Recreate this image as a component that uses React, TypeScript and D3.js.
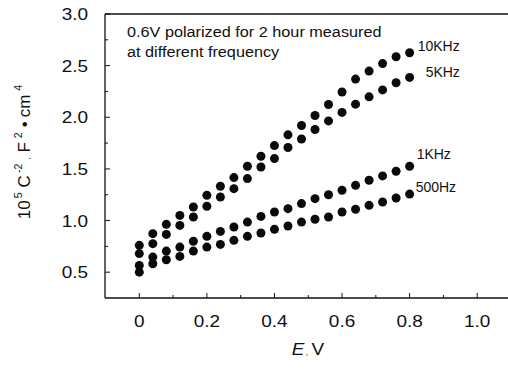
import React from "react";
import * as d3 from "d3";

const E = [0, 0.04, 0.08, 0.12, 0.16, 0.2, 0.24, 0.28, 0.32, 0.36, 0.4, 0.44, 0.48, 0.52, 0.56, 0.6, 0.64, 0.68, 0.72, 0.76, 0.8];
const s10k = [0.76, 0.873, 0.963, 1.05, 1.131, 1.244, 1.332, 1.416, 1.526, 1.623, 1.726, 1.83, 1.92, 2.017, 2.124, 2.245, 2.37, 2.447, 2.52, 2.586, 2.625];
const s5k = [0.68, 0.776, 0.866, 0.953, 1.034, 1.138, 1.228, 1.309, 1.406, 1.519, 1.6, 1.707, 1.79, 1.882, 1.965, 2.047, 2.127, 2.198, 2.265, 2.334, 2.386];
const s1k = [0.565, 0.646, 0.704, 0.743, 0.8, 0.847, 0.895, 0.937, 0.985, 1.04, 1.083, 1.115, 1.164, 1.212, 1.25, 1.293, 1.341, 1.39, 1.432, 1.477, 1.526];
const s500 = [0.5, 0.582, 0.62, 0.653, 0.704, 0.743, 0.769, 0.808, 0.847, 0.879, 0.915, 0.947, 0.985, 1.012, 1.034, 1.083, 1.109, 1.147, 1.18, 1.218, 1.256];
const seriesNames = ["10KHz", "5KHz", "1KHz", "500Hz"];
const seriesValues = [s10k, s5k, s1k, s500];
const xTicks = [0, 0.2, 0.4, 0.6, 0.8, 1.0];
const xTickLabels = ["0", "0.2", "0.4", "0.6", "0.8", "1.0"];
const xMinor = [0.1, 0.3, 0.5, 0.7, 0.9];
const yTicks = [0.5, 1.0, 1.5, 2.0, 2.5, 3.0];
const yMinor = [0.75, 1.25, 1.75, 2.25, 2.75];
const note = ["0.6V polarized for 2 hour measured", "at different frequency"];

const FONT = "'Liberation Sans', Arial, Helvetica, sans-serif";

export default function App() {
  const x = d3.scaleLinear().domain([-0.1, 1.1]).range([105.5, 511]);
  const y = d3.scaleLinear().domain([0.25, 3.0]).range([298, 14]);
  const left = 105;
  const top = y(3.0);
  const bottom = y(0.25);
  const right = 508;
  const fmtY = d3.format(".1f");

  const labelPos = [
    { dx: 8, dy: -2 },
    { dx: 16, dy: 0 },
    { dx: 7, dy: -7 },
    { dx: 6, dy: -2 },
  ];

  return (
    <svg width={508} height={370} style={{ position: "absolute", left: 0, top: 0, background: "#fff" }} fontFamily={FONT}>
      <rect x={0} y={0} width={508} height={370} fill="#fff" />
      {/* frame */}
      <g stroke="#111" strokeWidth={1.3} fill="none">
        <line x1={left} y1={top} x2={right} y2={top} />
        <line x1={left} y1={top} x2={left} y2={bottom} />
        <line x1={left} y1={bottom} x2={right} y2={bottom} />
      </g>
      {/* ticks */}
      <g stroke="#111" strokeWidth={1}>
        {yTicks.map((t) => (
          <line key={"yt" + t} x1={left} x2={left + 5} y1={y(t)} y2={y(t)} />
        ))}
        {yMinor.map((t) => (
          <line key={"ym" + t} x1={left} x2={left + 3} y1={y(t)} y2={y(t)} />
        ))}
        {xTicks.map((t) => (
          <line key={"xt" + t} x1={x(t)} x2={x(t)} y1={bottom} y2={bottom - 5} />
        ))}
        {xMinor.map((t) => (
          <line key={"xm" + t} x1={x(t)} x2={x(t)} y1={bottom} y2={bottom - 3} />
        ))}
      </g>
      {/* y tick labels */}
      {yTicks.map((t) => (
        <text key={"yl" + t} transform={`translate(88,${y(t) + 6}) scale(1.15,1)`} textAnchor="end" fontSize={16.5} fill="#111">
          {fmtY(t)}
        </text>
      ))}
      {/* x tick labels */}
      {xTicks.map((t, i) => (
        <text key={"xl" + t} transform={`translate(${x(t)},327) scale(1.15,1)`} textAnchor="middle" fontSize={16.5} fill="#111">
          {xTickLabels[i]}
        </text>
      ))}
      {/* x axis title */}
      <text transform="translate(308,355) scale(1.15,1)" textAnchor="middle" fontSize={16.5} fill="#111">
        <tspan fontStyle="italic">E</tspan>
        <tspan fontSize={8} dx={1}>,</tspan>
        <tspan dx={3}>V</tspan>
      </text>
      {/* y axis title */}
      <text transform="translate(30,152) rotate(-90)" textAnchor="middle" fontSize={17} fill="#111">
        <tspan>10</tspan>
        <tspan fontSize={10.5} dy={-8} dx={2}>5</tspan>
        <tspan dy={8} dx={5}>C</tspan>
        <tspan fontSize={10.5} dy={-8} dx={2}>-2</tspan>
        <tspan fontSize={8} dy={8} dx={4}>,</tspan>
        <tspan dx={5}>F</tspan>
        <tspan fontSize={10.5} dy={-8} dx={4}>2</tspan>
        <tspan dy={8} dx={5}>•</tspan>
        <tspan dx={4}>cm</tspan>
        <tspan fontSize={10.5} dy={-8} dx={4}>4</tspan>
      </text>
      {/* annotation */}
      <text transform="translate(127,37) scale(1.16,1)" fontSize={14} fill="#111">{note[0]}</text>
      <text transform="translate(127,56.5) scale(1.16,1)" fontSize={14} fill="#111">{note[1]}</text>
      {/* points */}
      <g fill="#0a0a0a">
        {seriesValues.map((vals, si) =>
          vals.map((v, i) => <circle key={si + "-" + i} cx={x(E[i])} cy={y(v)} r={4.5} />)
        )}
      </g>
      {/* series labels */}
      {seriesValues.map((vals, si) => {
        const n = vals.length - 1;
        return (
          <text
            key={"sl" + si}
            x={x(E[n]) + labelPos[si].dx}
            y={y(vals[n]) + labelPos[si].dy}
            fontSize={14}
            fill="#111"
          >
            {seriesNames[si]}
          </text>
        );
      })}
    </svg>
  );
}
